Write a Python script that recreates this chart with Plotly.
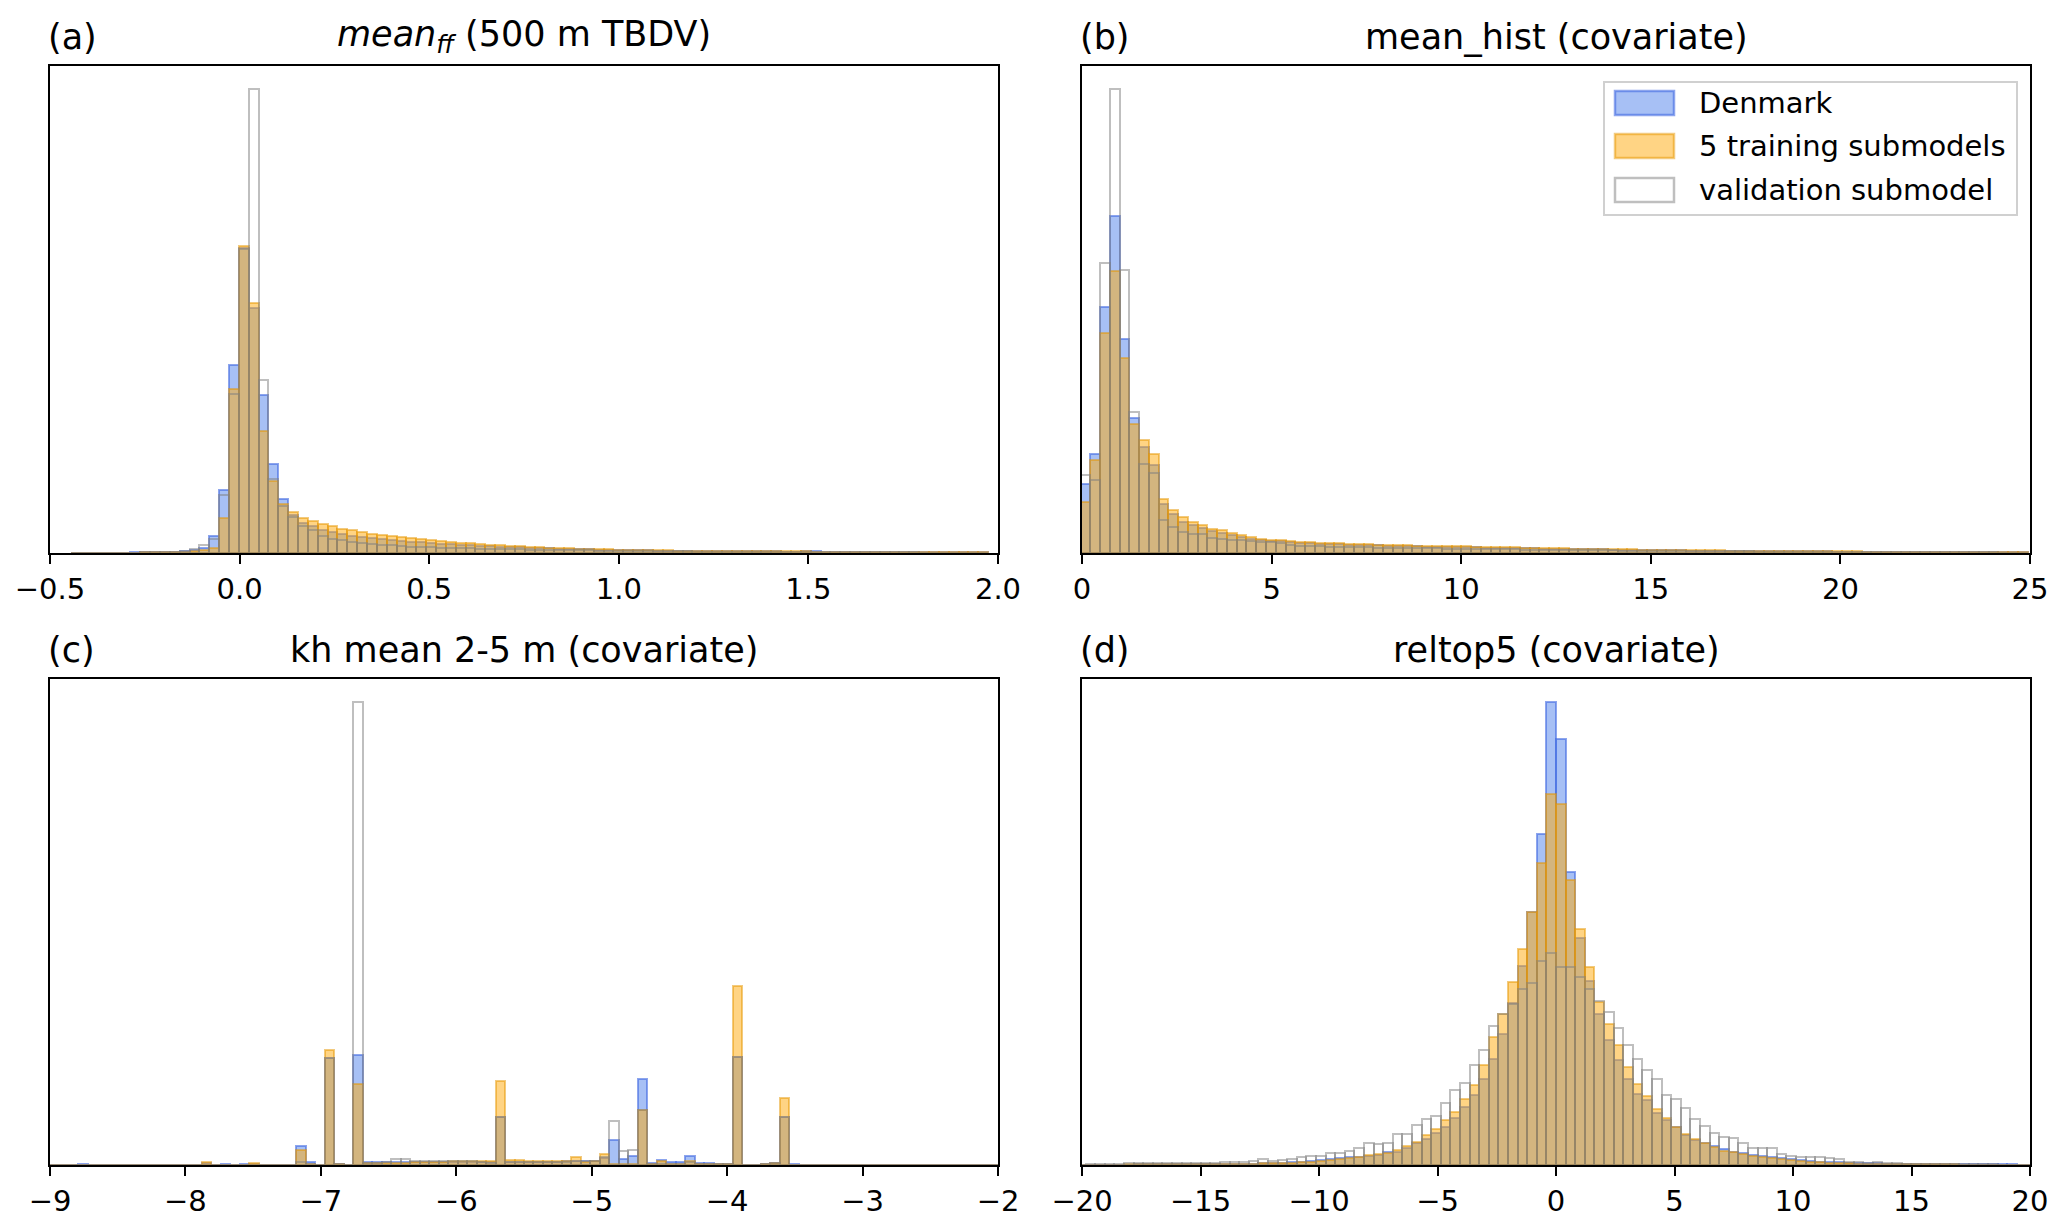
import plotly.graph_objects as go
from plotly.subplots import make_subplots

# Bins de cada panel: inicio del primer bin y ancho
inicio_a, ancho_a = -0.444, 0.026
inicio_b, ancho_b = -0.04, 0.2575
inicio_c, ancho_c = -9.0, 0.07
inicio_d, ancho_d = -20.25, 0.405

nombres = ['Denmark', '5 training submodels', 'validation submodel']

# (a) mean_ff (500 m TBDV)
denmark_a = [0.2, 0.3, 0.3, 0.4, 0.4, 0.5, 0.6, 0.7, 0.9, 1.1, 1.4, 2.0, 3.0,
             5.3, 16.7, 62.7, 188, 305, 245, 158, 88.7, 54.3, 38, 30, 27, 23, 21, 19, 17, 16, 15, 14, 13, 12,
             11.5, 10.8, 10.1, 9.5, 8.9, 8.3, 7.8, 7.3, 6.8, 6.4, 6.0, 5.6,
             5.3, 5.0, 4.7, 4.4, 4.1, 3.9, 3.7, 3.5, 3.3, 3.1, 2.9,
             2.8, 2.7, 2.5, 2.4, 2.3, 2.2, 2.1, 2.0, 1.9, 1.9,
             1.8, 1.7, 1.7, 1.6, 1.6, 1.5, 1.5, 1.6, 1.6, 1.5,
             1.4, 1.3, 1.3, 1.2, 1.2, 1.1, 1.1, 1.0, 1.0, 0.9,
             0.9, 0.8, 0.8, 0.7, 0.7, 0.6]
training_a = [0.2, 0.2, 0.3, 0.3, 0.4, 0.4, 0.5, 0.6, 0.7, 0.8, 1.0, 1.3, 1.8,
              2.7, 5.3, 35.3, 164, 306.7, 250, 122, 72, 49.3, 41, 35.3, 31.7, 28.7, 26.7, 24.3, 22.7, 21, 19.3, 17.7, 16.7, 16,
              14.8, 13.8, 12.9, 12.0, 11.2, 10.4, 9.7, 9.0, 8.4, 7.8, 7.2, 6.7,
              6.2, 5.8, 5.4, 5.0, 4.7, 4.4, 4.1, 3.8, 3.6, 3.4, 3.2,
              3.0, 2.9, 2.7, 2.6, 2.5, 2.4, 2.3, 2.2, 2.1, 2.0,
              1.9, 1.9, 1.8, 1.8, 1.7, 1.7, 1.6, 1.6, 1.5, 1.5,
              1.4, 1.4, 1.3, 1.3, 1.3, 1.2, 1.2, 1.2, 1.1, 1.1,
              1.0, 1.0, 0.9, 0.9, 0.8, 0.7]
validation_a = [0.1, 0.2, 0.2, 0.3, 0.3, 0.4, 0.5, 0.6, 0.8, 1.0, 1.5, 2.5, 4.5,
                7.7, 14.3, 57.7, 159, 304, 464, 173, 74.3, 46.7, 36, 26.7, 23.3, 16.7, 14.3, 12.7, 11, 10, 8.7, 7.7, 7.7, 6.7,
                6.3, 6.0, 5.7, 5.4, 5.1, 4.8, 4.6, 4.4, 4.2, 4.0, 3.8, 3.6,
                3.4, 3.2, 3.0, 2.9, 2.8, 2.7, 2.6, 2.5, 2.4, 2.3, 2.2,
                2.1, 2.0, 1.9, 1.8, 1.7, 1.6, 1.5, 1.5, 1.4, 1.4,
                1.3, 1.3, 1.2, 1.2, 1.1, 1.1, 1.0, 1.0, 0.9, 0.9,
                0.8, 0.8, 0.8, 0.7, 0.7, 0.7, 0.6, 0.6, 0.6, 0.5,
                0.5, 0.5, 0.4, 0.4, 0.4, 0.3]

# (b) mean_hist (covariate)
denmark_b = [68.7, 98.7, 246, 337.7, 214.3, 135.3, 106, 87.7, 48.7, 38.7, 31, 27.7, 25.3, 22, 20, 17.7, 16, 14.3,
             13, 12.3, 11.7, 11, 10.3, 9.7, 9.3,
             9.0, 8.7, 8.4, 8.1, 7.8, 7.6, 7.3, 7.1, 6.9, 6.7,
             6.5, 6.3, 6.1, 6.0, 5.8, 5.6, 5.4, 5.3, 5.1, 4.9,
             4.8, 4.6, 4.4, 4.3, 4.1, 4.0, 3.8, 3.7, 3.6, 3.4,
             3.3, 3.2, 3.0, 2.9, 2.8, 2.7, 2.6, 2.5, 2.4, 2.4,
             2.3, 2.2, 2.1, 2.0, 2.0, 1.9, 1.8, 1.8, 1.7, 1.7,
             1.6, 1.6, 1.5, 1.5, 1.5, 1.4, 1.4, 1.4, 1.3, 1.3,
             1.3, 1.3, 1.2, 1.2, 1.2, 1.2, 1.2, 1.1, 1.0, 0.9,
             0.8, 0.6]
training_b = [51, 92.7, 220, 282.7, 195, 129.3, 112.7, 98.7, 54.3, 42.7, 36, 31, 27.7, 24.3, 22.7, 20, 17.7, 16,
              14.3, 13.3, 12.7, 12, 11.3, 10.7, 10.3,
              9.9, 9.6, 9.3, 9.0, 8.7, 8.5, 8.2, 8.0, 7.7, 7.5,
              7.3, 7.1, 6.9, 6.8, 6.6, 6.4, 6.2, 6.0, 5.8, 5.6,
              5.4, 5.2, 5.0, 4.8, 4.7, 4.5, 4.3, 4.2, 4.0, 3.9,
              3.7, 3.6, 3.4, 3.3, 3.2, 3.1, 3.0, 2.9, 2.8, 2.7,
              2.6, 2.5, 2.4, 2.3, 2.2, 2.1, 2.0, 2.0, 1.9, 1.8,
              1.8, 1.7, 1.7, 1.6, 1.6, 1.5, 1.5, 1.4, 1.4, 1.3,
              1.3, 1.2, 1.2, 1.1, 1.1, 1.0, 1.0, 1.0, 0.9, 0.9,
              0.8, 0.6]
validation_b = [77.7, 72.7, 290.3, 464.3, 283.3, 141, 88.7, 80.3, 32.7, 26, 21, 19.3, 19.3, 15.3, 14, 13.3, 12.7, 12.3,
                11.3, 10.7, 10, 7.7, 7.3, 7, 6.7,
                6.5, 6.3, 6.1, 5.9, 5.7, 5.5, 5.4, 5.2, 5.0, 4.9,
                4.7, 4.6, 4.5, 4.3, 4.2, 4.1, 4.0, 3.8, 3.7, 3.6,
                3.5, 3.4, 3.3, 3.2, 3.1, 3.0, 2.9, 2.8, 2.7, 2.6,
                2.5, 2.4, 2.3, 2.3, 2.2, 2.1, 2.0, 2.0, 1.9, 1.8,
                1.8, 1.7, 1.7, 1.6, 1.5, 1.5, 1.4, 1.4, 1.3, 1.3,
                1.2, 1.2, 1.1, 1.1, 1.0, 1.0, 1.0, 0.9, 0.9, 0.9,
                0.8, 0.8, 0.8, 0.7, 0.7, 0.7, 0.6, 0.6, 0.6, 0.5,
                0.5, 0.4]

# (c) kh mean 2-5 m (covariate)
denmark_c = [0, 0, 0, 1, 0, 0, 0, 0, 0, 0,
             0, 0, 0, 0, 0, 0, 1.7, 0, 1, 0,
             1, 0.8, 0.5, 0.5, 0.5, 0.3, 19, 2.7, 0.3, 107.3,
             1, 0.3, 110, 2.7, 2.7, 3, 3.3, 3.3, 3.3, 3.3,
             3.3, 3.3, 3.3, 3.3, 3.3, 3.5, 3.3, 47.7, 3.3, 3.3,
             3, 3, 3, 3, 3.7, 3.7, 4.3, 4.3, 7, 25.3,
             6, 9.3, 86, 2.3, 5, 2.7, 2.7, 8.7, 2, 2,
             1, 1, 108.3, 0.5, 0.5, 0.7, 2, 47.7, 0.8, 0,
             0, 0, 0, 0, 0, 0, 0, 0, 0, 0,
             0, 0, 0, 0, 0, 0, 0, 0, 0, 0]
training_c = [0, 0, 0, 0, 0, 0, 0, 0, 0, 0,
              0, 0, 0, 0, 0, 0, 3.3, 0, 0, 0,
              0.3, 1.7, 0.5, 0.5, 0.5, 0.3, 15, 1, 0.3, 115.7,
              1, 0.3, 81.7, 2, 2.3, 2.3, 2.3, 2.3, 3.3, 3.5,
              3.5, 3.5, 3.7, 3.7, 3.7, 4, 4, 84.3, 5, 5,
              4.3, 4, 3.7, 3.7, 3.7, 8, 3.3, 3.7, 11, 1,
              1, 1, 55.3, 1, 3.7, 1.5, 1.5, 4.3, 1.3, 1,
              1, 1, 179.3, 0.5, 0.5, 0.7, 2, 67.7, 0, 0,
              0, 0, 0, 0, 0, 0, 0, 0, 0, 0,
              0, 0, 0, 0, 0, 0, 0, 0, 0, 0]
validation_c = [0, 0, 0, 0, 0, 0, 0, 0, 0, 0,
                0, 0, 0, 0, 0, 0, 0, 0, 0, 0,
                0, 0, 0.5, 0.5, 0.5, 0.3, 3.3, 1, 0.3, 107.3,
                1, 0.3, 464.3, 2, 2.3, 3, 5.7, 5.7, 3.7, 3.7,
                3.7, 3.7, 3.7, 3.7, 3.7, 3, 2.5, 47.7, 3.3, 3.3,
                3, 3, 3, 3, 3, 4.3, 4.3, 4, 8.3, 44.3,
                13.7, 15.3, 55.3, 1, 1.5, 1, 1, 3.3, 1, 1,
                1, 1, 108.3, 0.5, 0.5, 0.7, 2, 47.7, 0, 0,
                0, 0, 0, 0, 0, 0, 0, 0, 0, 0,
                0, 0, 0, 0, 0, 0, 0, 0, 0, 0]

# (d) reltop5 (covariate)
denmark_d = [0.3, 0.5, 0.5, 0.5, 0.5, 0.5, 0.6, 0.6, 0.6, 0.6,
             0.6, 0.7, 0.8, 0.9, 1, 1.1, 1.2, 1.4, 1.5, 1.8,
             2, 2.3, 2.6, 3, 3.7, 5, 5.7, 6.7, 7.7, 8.3,
             9, 10, 13.3, 13.3, 16.7, 21.7, 26, 31.7, 38.3, 46.7,
             58.3, 70, 86.7, 106.7, 131.7, 163, 200, 253.3, 332.3, 464.3,
             427.7, 294.3, 227.7, 184.3, 151.7, 125, 105, 86.7, 71.7, 65,
             51.7, 45, 37.7, 30, 25, 22.3, 19, 15.7, 13.3, 11.7,
             10, 9, 8.3, 7, 6.3, 5, 4.3, 3.3, 3, 2.7,
             2.3, 2, 1.7, 1.7, 1.3, 1.3, 1.2, 1.0, 0.9, 0.9,
             0.9, 0.8, 0.8, 0.9, 1.0, 0.9, 0.8, 0.6, 0.5, 0.4]
training_d = [0.3, 0.5, 0.5, 0.5, 0.5, 0.6, 0.6, 0.6, 0.6, 0.6,
              0.6, 0.7, 0.8, 0.8, 1, 1, 1, 1.3, 1.3, 1.7,
              1.7, 2, 2.3, 3, 3.3, 4.3, 5, 5.7, 7, 8.3,
              10, 11, 12.3, 15, 19.3, 23.3, 30, 35.7, 45, 53.3,
              66.7, 80, 100, 128.3, 151.7, 183.3, 216.7, 253.3, 302.7, 371.7,
              361.7, 286, 236.3, 198.3, 163.3, 141.7, 120, 98.3, 81.7, 69,
              55.7, 46.7, 38.3, 30.7, 25.7, 21.7, 17.7, 14.3, 12.7, 11,
              9.3, 8.3, 7, 5.7, 5, 4, 3.3, 2.7, 2.3, 2,
              1.7, 1.3, 1.3, 1, 1, 0.9, 0.8, 0.8, 0.7, 0.7,
              0.6, 0.6, 0.5, 0.5, 0.5, 0.4, 0.4, 0.4, 0.3, 0.3]
validation_d = [0.5, 1, 1, 1, 1, 1.7, 1.7, 1.7, 1.7, 1.7,
                1.7, 2.3, 2.3, 2, 2.3, 3.3, 2.7, 2.7, 4.3, 5.7,
                4.3, 5, 5.7, 7.7, 9, 9.3, 11.7, 12.3, 14.3, 17.3,
                22.3, 21, 22.3, 31, 31, 39.7, 46, 49.3, 62.3, 75,
                82.7, 100, 115, 139, 151.7, 161.7, 176.7, 182.3, 204.3, 212.3,
                198.3, 199, 188.3, 176.7, 165, 153.3, 137.7, 120, 106.7, 95,
                86.7, 70, 66, 57.3, 45.7, 39.3, 31.7, 27.7, 27.3, 21.7,
                17.3, 17.3, 17.3, 11, 9, 7.7, 8.3, 7.7, 6.7, 5.7,
                3.3, 2.7, 2.3, 2.7, 1.7, 1.7, 1.3, 1.3, 1.0, 1.0,
                0.9, 0.8, 0.8, 0.7, 0.6, 0.6, 0.5, 0.5, 0.4, 0.3]

paneles = [
    (inicio_a, ancho_a, [denmark_a, training_a, validation_a]),
    (inicio_b, ancho_b, [denmark_b, training_b, validation_b]),
    (inicio_c, ancho_c, [denmark_c, training_c, validation_c]),
    (inicio_d, ancho_d, [denmark_d, training_d, validation_d]),
]

titulos = ['<i>mean</i><sub><i>ff</i></sub> (500 m TBDV)', 'mean_hist (covariate)',
           'kh mean 2-5 m (covariate)', 'reltop5 (covariate)']
letras = ['(a)', '(b)', '(c)', '(d)']
rangos_x = [[-0.5, 2.0], [0, 25], [-9, -2], [-20, 20]]
pasos_x = [0.5, 5, 1, 5]

relleno = ['rgba(80,130,235,0.5)', 'rgba(255,170,10,0.5)', 'rgba(0,0,0,0)']
borde = ['rgba(65,105,225,0.6)', 'rgba(230,150,0,0.5)', 'rgba(128,128,128,0.5)']

# la pagina deja 8 px de margen arriba y a la izquierda
W, H = 2067, 1227
dx, dy = 8, 8


def px_x(px):
    return (px - dx) / W


def px_y(py):
    return 1 - (py - dy) / H


dom_x = [[px_x(50), px_x(998)], [px_x(1082), px_x(2030)]]
dom_y = [[px_y(553), px_y(66)], [px_y(1165), px_y(679)]]

fig = make_subplots(rows=2, cols=2)
fuente = 'DejaVu Sans'

for p, (inicio, ancho, series) in enumerate(paneles):
    fila, col = p // 2 + 1, p % 2 + 1
    for s, valores in enumerate(series):
        centros = [inicio + ancho * (i + 0.5) for i in range(len(valores))]
        fig.add_trace(go.Bar(x=centros, y=valores, width=ancho, name=nombres[s],
                             marker=dict(color=relleno[s], line=dict(color=borde[s], width=2)),
                             showlegend=False),
                      row=fila, col=col)
    ymax = max(max(v) for v in series) * 1.05
    fig.update_xaxes(range=rangos_x[p], dtick=pasos_x[p], domain=dom_x[col - 1],
                     showline=True, mirror=True, linecolor='black', linewidth=2,
                     ticks='outside', ticklen=9, tickwidth=2, tickcolor='black',
                     showgrid=False, zeroline=False, automargin=False,
                     tickfont=dict(family=fuente, size=29, color='black'),
                     row=fila, col=col)
    if p == 0:
        fig.update_xaxes(tickformat='.1f', row=fila, col=col)
    fig.update_yaxes(range=[0, ymax], domain=dom_y[fila - 1],
                     showline=True, mirror=True, linecolor='black', linewidth=2,
                     showticklabels=False, ticks='', showgrid=False, zeroline=False,
                     automargin=False, row=fila, col=col)

    # titulos y letras de los paneles
    x0, x1 = dom_x[col - 1]
    y_tit = dom_y[fila - 1][1] + 29 / H
    fig.add_annotation(text=titulos[p], x=(x0 + x1) / 2, y=y_tit, xref='paper', yref='paper',
                       xanchor='center', yanchor='middle', showarrow=False,
                       font=dict(family=fuente, size=35, color='black'))
    fig.add_annotation(text=letras[p], x=x0 - 4 / W, y=y_tit, xref='paper', yref='paper',
                       xanchor='left', yanchor='middle', showarrow=False,
                       font=dict(family=fuente, size=35, color='black'))

# leyenda dibujada a mano, con parches anchos como en matplotlib
fig.add_shape(type='rect', xref='paper', yref='paper',
              x0=px_x(1604), x1=px_x(2017), y0=px_y(215), y1=px_y(82),
              fillcolor='rgba(255,255,255,0.8)', line=dict(color='#d0d0d0', width=2))
for s, yc in enumerate([103, 146, 190]):
    fig.add_shape(type='rect', xref='paper', yref='paper',
                  x0=px_x(1615), x1=px_x(1674), y0=px_y(yc + 12), y1=px_y(yc - 12),
                  fillcolor=relleno[s], line=dict(color=borde[s], width=2.5))
    fig.add_annotation(text=nombres[s], x=px_x(1697), y=px_y(yc), xref='paper', yref='paper',
                       xanchor='left', yanchor='middle', showarrow=False,
                       font=dict(family=fuente, size=29, color='black'))

fig.update_layout(width=W, height=H, barmode='overlay', bargap=0,
                  margin=dict(l=0, r=0, t=0, b=0),
                  paper_bgcolor='white', plot_bgcolor='white',
                  font=dict(family=fuente, color='black'), showlegend=False)

fig.write_html("out.html")
